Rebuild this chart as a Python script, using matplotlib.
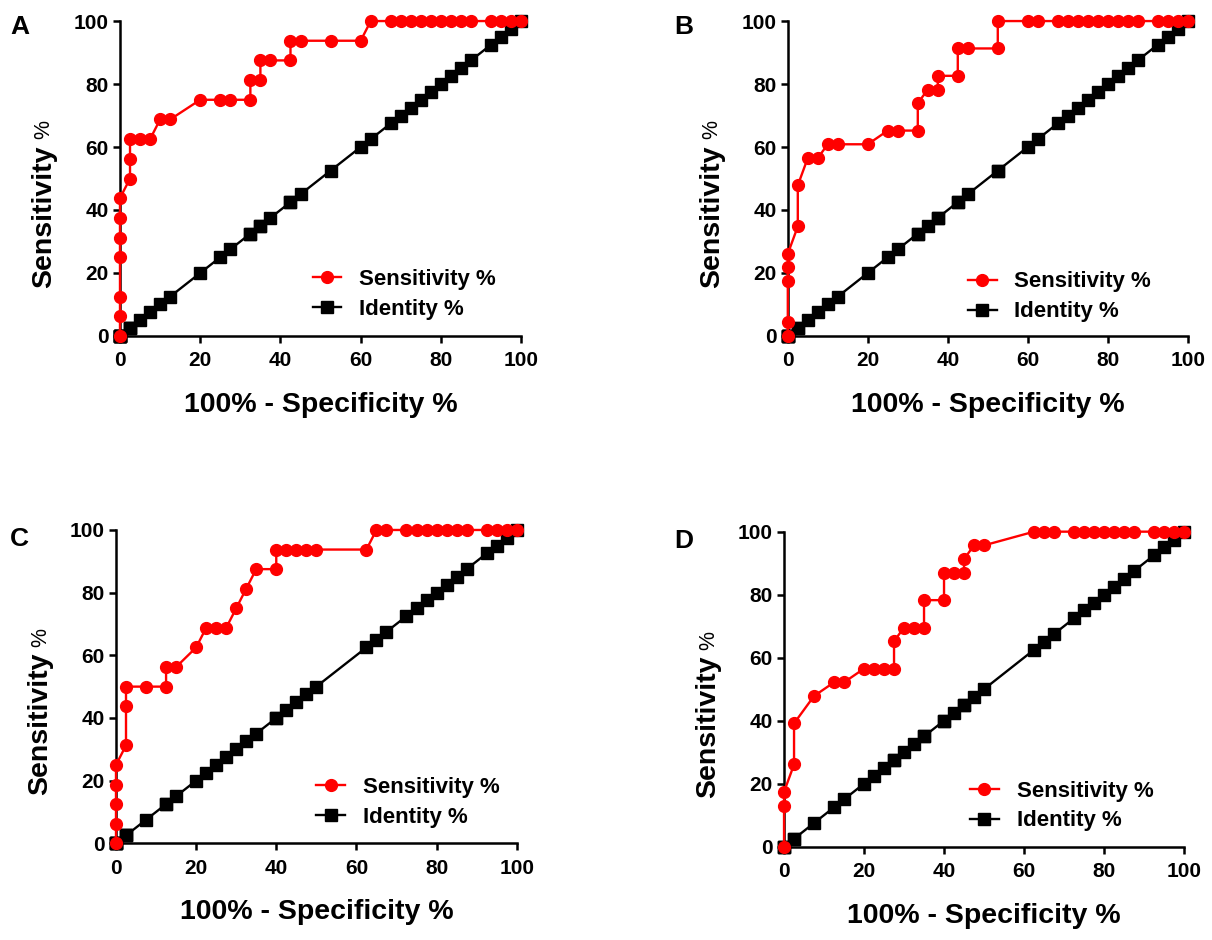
import matplotlib
matplotlib.use("Agg")
import matplotlib.pyplot as plt

plt.rcParams['font.family'] = ['Liberation Sans', 'DejaVu Sans']
plt.rcParams['font.weight'] = 'bold'

# 100% - specificity (x) and sensitivity (y)
xA = [0, 0, 0, 0, 0, 0, 0, 2.5, 2.5, 2.5, 5, 7.5, 10, 12.5, 20, 25, 27.5, 32.5, 32.5,
      35, 35, 37.5, 42.5, 42.5, 45, 52.5, 60, 62.5, 67.5, 70, 72.5, 75, 77.5, 80,
      82.5, 85, 87.5, 92.5, 95, 97.5, 100]
yA = [0, 6.25, 12.5, 25, 31.25, 37.5, 43.75, 50, 56.25, 62.5, 62.5, 62.5, 68.75, 68.75,
      75, 75, 75, 75, 81.25, 81.25, 87.5, 87.5, 87.5, 93.75, 93.75, 93.75, 93.75, 100,
      100, 100, 100, 100, 100, 100, 100, 100, 100, 100, 100, 100, 100]

xB = [0, 0, 0, 0, 0, 2.5, 2.5, 5, 7.5, 10, 12.5, 20, 25, 27.5, 32.5, 32.5, 35, 37.5,
      37.5, 42.5, 42.5, 45, 52.5, 52.5, 60, 62.5, 67.5, 70, 72.5, 75, 77.5, 80, 82.5,
      85, 87.5, 92.5, 95, 97.5, 100]
yB = [0, 4.35, 17.39, 21.74, 26.09, 34.78, 47.83, 56.52, 56.52, 60.87, 60.87, 60.87,
      65.22, 65.22, 65.22, 73.91, 78.26, 78.26, 82.61, 82.61, 91.30, 91.30, 91.30, 100,
      100, 100, 100, 100, 100, 100, 100, 100, 100, 100, 100, 100, 100, 100, 100]

xC = [0, 0, 0, 0, 0, 2.5, 2.5, 2.5, 7.5, 12.5, 12.5, 15, 20, 22.5, 25, 27.5, 30, 32.5,
      35, 40, 40, 42.5, 45, 47.5, 50, 62.5, 65, 67.5, 72.5, 75, 77.5, 80, 82.5, 85,
      87.5, 92.5, 95, 97.5, 100]
yC = [0, 6.25, 12.5, 18.75, 25, 31.25, 43.75, 50, 50, 50, 56.25, 56.25, 62.5, 68.75,
      68.75, 68.75, 75, 81.25, 87.5, 87.5, 93.75, 93.75, 93.75, 93.75, 93.75, 93.75,
      100, 100, 100, 100, 100, 100, 100, 100, 100, 100, 100, 100, 100]

xD = [0, 0, 0, 2.5, 2.5, 7.5, 12.5, 15, 20, 22.5, 25, 27.5, 27.5, 30, 32.5, 35, 35, 40,
      40, 42.5, 45, 45, 47.5, 50, 62.5, 65, 67.5, 72.5, 75, 77.5, 80, 82.5, 85, 87.5,
      92.5, 95, 97.5, 100]
yD = [0, 13.04, 17.39, 26.09, 39.13, 47.83, 52.17, 52.17, 56.52, 56.52, 56.52, 56.52,
      65.22, 69.57, 69.57, 69.57, 78.26, 78.26, 86.96, 86.96, 86.96, 91.30, 95.65,
      95.65, 100, 100, 100, 100, 100, 100, 100, 100, 100, 100, 100, 100, 100, 100]

ticks = [0, 20, 40, 60, 80, 100]


def draw_panel(ax, x, y, leg_xy):
    # identity line uses the same x values as the ROC curve
    ax.plot(x, x, color='black', marker='s', ms=8, lw=1.7, clip_on=False, zorder=3,
            label='Identity %')
    ax.plot(x, y, color='#ff0000', marker='o', ms=8.5, lw=1.7, clip_on=False, zorder=4,
            label='Sensitivity %')
    ax.set_xlim(0, 100)
    ax.set_ylim(0, 100)
    ax.set_xticks(ticks)
    ax.set_yticks(ticks)
    for s in ['top', 'right']:
        ax.spines[s].set_visible(False)
    for s in ['left', 'bottom']:
        ax.spines[s].set_linewidth(1.8)
    ax.tick_params(width=1.8, length=5, labelsize=15)
    ax.tick_params(axis='x', pad=6)
    ax.tick_params(axis='y', pad=3)

    ax.text(0.5, -0.22, '100% - Specificity %', transform=ax.transAxes,
            fontsize=20.5, fontweight='bold', ha='center', va='center')
    lab = ax.text(-0.19, 0.38, 'Sensitivity', transform=ax.transAxes,
                  fontsize=20.5, fontweight='bold', rotation=90, ha='center', va='center')
    ax.annotate('%', xy=(1.0, 1.0), xycoords=lab, xytext=(-1.5, 4),
                textcoords='offset points', rotation=90, ha='right', va='bottom',
                fontsize=15.5, fontweight='normal')

    h, l = ax.get_legend_handles_labels()
    ax.legend(h[::-1], l[::-1], loc='center left', bbox_to_anchor=leg_xy, frameon=False,
              fontsize=16, handlelength=1.3, handletextpad=0.8, labelspacing=0.4,
              borderpad=0, borderaxespad=0)


fig = plt.figure(figsize=(12.12, 9.4), dpi=100)
axA = fig.add_axes([0.099, 0.6426, 0.331, 0.335])
axB = fig.add_axes([0.650, 0.6426, 0.330, 0.335])
axC = fig.add_axes([0.0957, 0.1029, 0.3306, 0.3333])
axD = fig.add_axes([0.6469, 0.0993, 0.330, 0.3351])

draw_panel(axA, xA, yA, (0.48, 0.133))
draw_panel(axB, xB, yB, (0.45, 0.124))
draw_panel(axC, xC, yC, (0.50, 0.13))
draw_panel(axD, xD, yD, (0.465, 0.129))

for letter, px, py in [('A', 10, 15), ('B', 674, 15), ('C', 10, 527), ('D', 674, 529)]:
    fig.text(px / 1212, 1 - py / 940, letter, fontsize=19, fontweight='bold',
             ha='left', va='top')

plt.savefig('out.png', dpi=100)
plt.close()
